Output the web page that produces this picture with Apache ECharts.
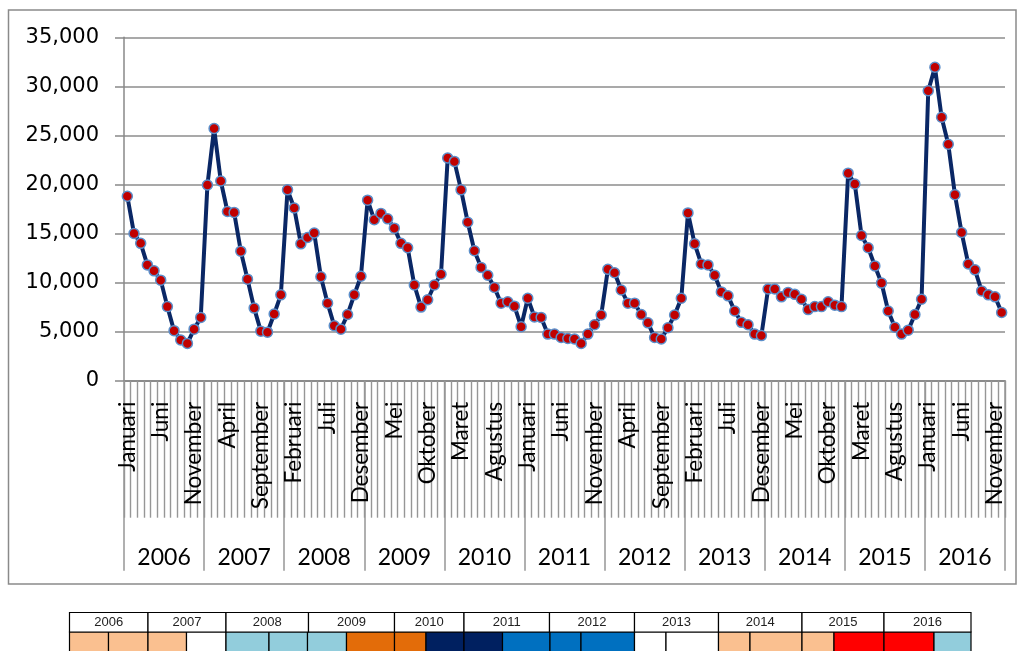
<!DOCTYPE html>
<html>
<head>
<meta charset="utf-8">
<script src="https://cdn.jsdelivr.net/npm/echarts@6/dist/echarts.min.js"></script>
<style>
html, body { margin: 0; padding: 0; background: #fff; }
#chart { width: 1019px; height: 651px; }
</style>
</head>
<body>
<div id="chart"></div>
<script>
var monthNames = ['Januari', 'Februari', 'Maret', 'April', 'Mei', 'Juni', 'Juli',
    'Agustus', 'September', 'Oktober', 'November', 'Desember'];
var years = ['2006', '2007', '2008', '2009', '2010', '2011', '2012', '2013', '2014', '2015', '2016'];
var yTicks = [0, 5000, 10000, 15000, 20000, 25000, 30000, 35000];

// nilai bulanan per tahun
var v2006 = [18800, 15000, 14000, 11800, 11200, 10250, 7550, 5100, 4150, 3800, 5250, 6450];
var v2007 = [19950, 25700, 20350, 17250, 17150, 13200, 10350, 7400, 5050, 4950, 6800, 8750];
var v2008 = [19450, 17600, 13950, 14600, 15050, 10600, 7900, 5600, 5250, 6750, 8750, 10650];
var v2009 = [18400, 16400, 17050, 16500, 15550, 14000, 13550, 9750, 7500, 8250, 9750, 10850];
var v2010 = [22700, 22350, 19450, 16150, 13250, 11550, 10750, 9500, 7900, 8050, 7600, 5500];
var v2011 = [8400, 6500, 6450, 4750, 4750, 4400, 4300, 4250, 3800, 4750, 5700, 6700];
var v2012 = [11350, 11000, 9250, 7900, 7900, 6750, 5900, 4400, 4250, 5400, 6700, 8400];
var v2013 = [17100, 13950, 11900, 11800, 10750, 9050, 8650, 7100, 5950, 5700, 4750, 4600];
var v2014 = [9350, 9350, 8550, 9000, 8800, 8300, 7250, 7550, 7550, 8050, 7700, 7550];
var v2015 = [21150, 20050, 14800, 13550, 11700, 9950, 7100, 5450, 4750, 5150, 6750, 8300];
var v2016 = [29550, 31950, 26850, 24100, 18950, 15100, 11900, 11300, 9150, 8750, 8550, 6950];

// tabel warna di bawah grafik
var tableYears = ['2006', '2007', '2008', '2009', '2010', '2011', '2012', '2013', '2014', '2015', '2016'];

var yearly = [v2006, v2007, v2008, v2009, v2010, v2011, v2012, v2013, v2014, v2015, v2016];
var cats = [];
var values = [];
for (var i = 0; i < yearly.length; i++) {
    for (var m = 0; m < 12; m++) {
        cats.push(monthNames[m]);
        values.push(yearly[i][m]);
    }
}

var myChart = echarts.init(document.getElementById('chart'));

// layout tabel
var yearEdges = [69.5, 148, 226, 308.5, 394.5, 464, 549.5, 634.5, 718.5, 802, 884, 971];
var cellEdges = [69.5, 108.5, 148, 186.5, 226, 269, 307.5, 346.5, 394.5, 426, 464, 502.5,
    550, 581, 634.5, 666, 718.5, 750, 802, 834, 884, 934, 971];
var cellColors = ['#fac090', '#fac090', '#fac090', '#ffffff', '#92cddc', '#92cddc', '#92cddc',
    '#e36c09', '#e36c09', '#002060', '#002060', '#0070c0', '#0070c0', '#0070c0', '#ffffff',
    '#ffffff', '#fac090', '#fac090', '#fac090', '#ff0000', '#ff0000', '#92cddc'];

var graphics = [{
    type: 'rect',
    shape: { x: 8.5, y: 10, width: 1007.5, height: 574 },
    style: { fill: 'none', stroke: '#8a8a8a', lineWidth: 1.5 },
    silent: true
}];
for (var c = 0; c < cellColors.length; c++) {
    graphics.push({
        type: 'rect',
        shape: { x: cellEdges[c], y: 632, width: cellEdges[c + 1] - cellEdges[c], height: 30 },
        style: { fill: cellColors[c], stroke: '#000', lineWidth: 1.2 },
        silent: true
    });
}
for (var t = 0; t < tableYears.length; t++) {
    graphics.push({
        type: 'rect',
        shape: { x: yearEdges[t], y: 612.5, width: yearEdges[t + 1] - yearEdges[t], height: 19.5 },
        style: { fill: '#fff', stroke: '#000', lineWidth: 1.2 },
        silent: true
    });
    graphics.push({
        type: 'text',
        x: (yearEdges[t] + yearEdges[t + 1]) / 2,
        y: 622.5,
        style: {
            text: tableYears[t], fill: '#222', font: '13px "Liberation Sans"',
            align: 'center', verticalAlign: 'middle'
        },
        silent: true
    });
}

option = {
    animation: false,
    backgroundColor: '#fff',
    grid: { left: 124, right: 14, top: 37.3, bottom: 270.3, containLabel: false },
    xAxis: [{
        type: 'category',
        data: cats,
        boundaryGap: true,
        axisLine: { show: true, lineStyle: { color: '#898989', width: 1.5 } },
        axisTick: { show: true, interval: 0, length: 137, lineStyle: { color: '#969696', width: 1.4 } },
        axisLabel: {
            interval: 4, rotate: 90, margin: 21,
            fontFamily: 'Lato', fontSize: 22.5, color: '#000'
        },
        splitLine: { show: false }
    }, {
        type: 'category',
        data: years,
        position: 'bottom',
        boundaryGap: true,
        axisLine: { show: true, lineStyle: { color: '#898989', width: 1.5 } },
        axisTick: { show: true, interval: 0, length: 190, lineStyle: { color: '#969696', width: 1.5 } },
        axisLabel: {
            interval: 0, margin: 165,
            fontFamily: 'Lato', fontSize: 23, color: '#000'
        },
        splitLine: { show: false }
    }],
    yAxis: {
        type: 'value',
        min: 0, max: 35000, interval: 5000,
        axisLine: { show: true, lineStyle: { color: '#898989', width: 1.5 } },
        axisTick: { show: true, length: 9, lineStyle: { color: '#898989', width: 1.5 } },
        axisLabel: {
            margin: 25, fontFamily: 'DejaVu Sans', fontSize: 21, color: '#000',
            formatter: function (v) {
                return yTicks.indexOf(v) >= 0 ? v.toLocaleString('en-US') : '';
            }
        },
        splitLine: { show: true, lineStyle: { color: '#8c8c8c', width: 1.5 } }
    },
    series: [{
        type: 'line',
        data: values,
        xAxisIndex: 0,
        symbol: 'circle',
        symbolSize: 10,
        showSymbol: true,
        showAllSymbol: true,
        lineStyle: { color: '#0a2765', width: 4 },
        itemStyle: { color: '#c00000', borderColor: '#5b8ec9', borderWidth: 1.5 },
        z: 5
    }],
    graphic: graphics
};
myChart.setOption(option);
</script>
</body>
</html>
